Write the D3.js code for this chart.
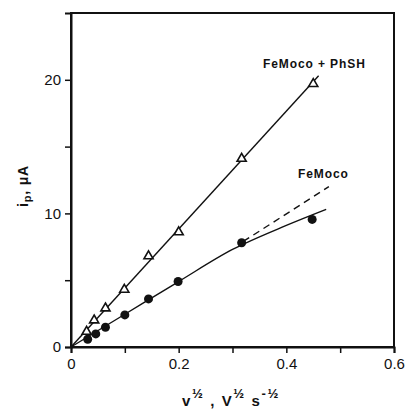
<!DOCTYPE html>
<html>
<head>
<meta charset="utf-8">
<script src="https://cdn.jsdelivr.net/npm/d3@7"></script>
<style>
  body { margin: 0; background: #fff; }
  text { font-family: "Liberation Sans", Arial, sans-serif; fill: #111; }
</style>
</head>
<body>
<div id="container"></div>
<script>
/* CONSTANTS AND GLOBALS */
const width = 405,
  height = 409,
  margin = { top: 13, bottom: 62, left: 71, right: 11 };

/* DATA */
// FeMoco + PhSH (open triangles)
const phshX = [0.029, 0.043, 0.064, 0.099, 0.144, 0.200, 0.317, 0.450];
const phshY = [1.15, 2.0, 2.9, 4.3, 6.8, 8.6, 14.1, 19.7];
// straight fit line for the triangles
const phshLineX = [0, 0.46];
const phshLineY = [0, 20.3];

// FeMoco (filled circles)
const femocoX = [0.031, 0.046, 0.064, 0.100, 0.144, 0.199, 0.317, 0.448];
const femocoY = [0.58, 0.98, 1.48, 2.4, 3.6, 4.9, 7.8, 9.55];
// solid curve through the circles
const curveX = [0, 0.1, 0.2, 0.3, 0.40, 0.474];
const curveY = [0, 2.45, 4.9, 7.3, 9.1, 10.3];
// dashed linear extrapolation
const dashX = [0.32, 0.479];
const dashY = [7.9, 12.0];

const xTicks = [0, 0.2, 0.4, 0.6];
const xMinor = [0.1, 0.3, 0.5];
const yTicks = [0, 10, 20];
const yMinor = [5, 15];

/* SCALES */
const xScale = d3.scaleLinear()
  .domain([0, 0.6])
  .range([margin.left, width - margin.right]);

const yScale = d3.scaleLinear()
  .domain([0, 25])
  .range([height - margin.bottom, margin.top]);

/* HTML ELEMENTS */
const svg = d3.select("#container")
  .append("svg")
  .attr("width", width)
  .attr("height", height);

// frame
svg.append("rect")
  .attr("x", xScale(0))
  .attr("y", yScale(25))
  .attr("width", xScale(0.6) - xScale(0))
  .attr("height", yScale(0) - yScale(25))
  .attr("fill", "none")
  .attr("stroke", "#111")
  .attr("stroke-width", 2);

// axes
const xAxis = d3.axisBottom(xScale)
  .tickValues(xTicks.concat(xMinor))
  .tickSize(6)
  .tickPadding(5)
  .tickFormat(d => xTicks.includes(d) ? (d === 0 ? "0" : d3.format(".1f")(d)) : "");

const yAxis = d3.axisLeft(yScale)
  .tickValues(yTicks.concat(yMinor))
  .tickSize(6)
  .tickPadding(4)
  .tickFormat(d => yTicks.includes(d) ? d : "");

const gx = svg.append("g")
  .attr("transform", `translate(0, ${yScale(0)})`)
  .call(xAxis);
const gy = svg.append("g")
  .attr("transform", `translate(${xScale(0)}, 0)`)
  .call(yAxis);

[gx, gy].forEach(g => {
  g.select(".domain").attr("stroke", "#111").attr("stroke-width", 2);
  g.selectAll(".tick line").attr("stroke", "#111").attr("stroke-width", 1.5);
  g.selectAll(".tick text")
    .attr("font-family", "Liberation Sans, Arial, sans-serif")
    .attr("font-size", 15)
    .attr("fill", "#111");
});

// lines
const line = d3.line()
  .x(d => xScale(d[0]))
  .y(d => yScale(d[1]));

svg.append("path")
  .datum(phshLineX.map((x, i) => [x, phshLineY[i]]))
  .attr("d", line)
  .attr("fill", "none")
  .attr("stroke", "#111")
  .attr("stroke-width", 1.4);

svg.append("path")
  .datum(curveX.map((x, i) => [x, curveY[i]]))
  .attr("d", d3.line().x(d => xScale(d[0])).y(d => yScale(d[1])).curve(d3.curveMonotoneX))
  .attr("fill", "none")
  .attr("stroke", "#111")
  .attr("stroke-width", 1.4);

svg.append("path")
  .datum(dashX.map((x, i) => [x, dashY[i]]))
  .attr("d", line)
  .attr("fill", "none")
  .attr("stroke", "#111")
  .attr("stroke-width", 1.4)
  .attr("stroke-dasharray", "7,5");

// markers
const tri = d3.symbol().type(d3.symbolTriangle).size(36);

svg.selectAll(".tri")
  .data(phshX.map((x, i) => [x, phshY[i]]))
  .join("path")
  .attr("class", "tri")
  .attr("transform", d => `translate(${xScale(d[0])}, ${yScale(d[1])})`)
  .attr("d", tri)
  .attr("fill", "#fff")
  .attr("stroke", "#111")
  .attr("stroke-width", 1.6);

svg.selectAll(".dot")
  .data(femocoX.map((x, i) => [x, femocoY[i]]))
  .join("circle")
  .attr("class", "dot")
  .attr("cx", d => xScale(d[0]))
  .attr("cy", d => yScale(d[1]))
  .attr("r", 4.5)
  .attr("fill", "#111");

// series labels
svg.append("text")
  .attr("x", 263).attr("y", 68)
  .attr("font-size", 12)
  .attr("font-weight", "bold")
  .attr("letter-spacing", 0.9)
  .text("FeMoco + PhSH");

svg.append("text")
  .attr("x", 298).attr("y", 178)
  .attr("font-size", 12)
  .attr("font-weight", "bold")
  .attr("letter-spacing", 0.9)
  .text("FeMoco");

// y label
const yl = svg.append("text")
  .attr("transform", "translate(28, 186) rotate(-90)")
  .attr("text-anchor", "middle")
  .attr("font-size", 14)
  .attr("font-weight", "bold")
  .attr("letter-spacing", 0.8);
yl.append("tspan").text("i");
yl.append("tspan").attr("font-size", 11).attr("dy", 3).text("p");
yl.append("tspan").attr("dy", -3).text(", \u03bcA");

// x label
const xl = svg.append("text")
  .attr("x", 182).attr("y", 406)
  .attr("font-size", 15)
  .attr("font-weight", "bold")
  .attr("letter-spacing", 1.6);
xl.append("tspan").text("v");
xl.append("tspan").attr("font-size", 13).attr("dy", -8).text("\u00bd");
xl.append("tspan").attr("dy", 8).text(" , V");
xl.append("tspan").attr("font-size", 13).attr("dy", -8).text("\u00bd");
xl.append("tspan").attr("dy", 8).text(" s");
xl.append("tspan").attr("font-size", 13).attr("dy", -8).text("-\u00bd");
</script>
</body>
</html>
